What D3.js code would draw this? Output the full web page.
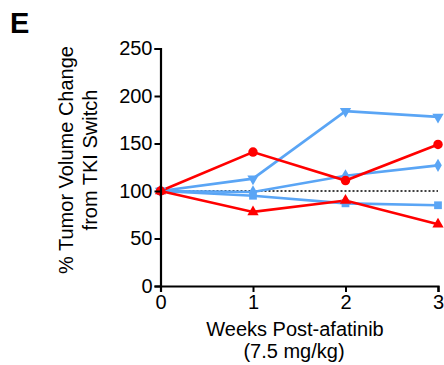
<!DOCTYPE html>
<html>
<head>
<meta charset="utf-8">
<script src="https://cdn.jsdelivr.net/npm/d3@7"></script>
<style>
  body { margin: 0; background: #fff; }
  svg { display: block; font-family: "Liberation Sans", Arial, sans-serif; }
</style>
</head>
<body>
<svg id="chart" width="444" height="365"></svg>
<script>
  var weeks = [0, 1, 2, 3];
  var yTicks = [0, 50, 100, 150, 200, 250];

  // one row per tumor
  var blueDown = [100, 113, 184, 178];
  var redCircle = [100, 141, 111, 149];
  var blueDiamond = [100, 99, 116, 127];
  var blueSquare = [100, 95, 87, 85];
  var redUp = [100, 78, 90, 65];

  var red = "#ff0000";
  var blue = "#5aa5f5";

  var series = [
    { values: blueDown, color: blue, symbol: d3.symbolTriangle, rotate: 180, size: 55 },
    { values: blueDiamond, color: blue, symbol: d3.symbolDiamond, rotate: 0, size: 50 },
    { values: blueSquare, color: blue, symbol: d3.symbolSquare, rotate: 0, size: 60 },
    { values: redUp, color: red, symbol: d3.symbolTriangle, rotate: 0, size: 55 },
    { values: redCircle, color: red, symbol: d3.symbolCircle, rotate: 0, size: 70 }
  ];

  var svg = d3.select("#chart");
  var x = d3.scaleLinear().domain([0, 3]).range([160.5, 438]);
  var y = d3.scaleLinear().domain([0, 250]).range([286, 48.5]);

  // reference line at 100%
  svg.append("line")
    .attr("x1", x(0)).attr("x2", x(3))
    .attr("y1", y(100)).attr("y2", y(100))
    .attr("stroke", "#000").attr("stroke-width", 1.6)
    .attr("stroke-dasharray", "2,2");

  var line = d3.line()
    .x(function (d, i) { return x(weeks[i]); })
    .y(function (d) { return y(d); });

  series.forEach(function (s) {
    svg.append("path")
      .attr("d", line(s.values))
      .attr("fill", "none")
      .attr("stroke", s.color)
      .attr("stroke-width", 2.6);
  });

  series.forEach(function (s) {
    svg.selectAll(null)
      .data(s.values)
      .join("path")
      .attr("d", d3.symbol().type(s.symbol).size(s.size))
      .attr("fill", s.color)
      .attr("transform", function (d, i) {
        return "translate(" + x(weeks[i]) + "," + y(d) + ") rotate(" + s.rotate + ")";
      });
  });

  var yAxis = svg.append("g")
    .attr("transform", "translate(" + x(0) + ",0)")
    .call(d3.axisLeft(y).tickValues(yTicks).tickSize(6).tickPadding(2).tickFormat(d3.format("d")));

  var xAxis = svg.append("g")
    .attr("transform", "translate(0," + y(0) + ")")
    .call(d3.axisBottom(x).tickValues(weeks).tickSize(6).tickPadding(3).tickFormat(d3.format("d")));

  [yAxis, xAxis].forEach(function (a) {
    a.select(".domain").attr("stroke", "#000").attr("stroke-width", 2.2);
    a.selectAll(".tick line").attr("stroke", "#000").attr("stroke-width", 2);
    a.selectAll("text").attr("font-size", 20).attr("fill", "#000")
      .attr("font-family", "'Liberation Sans', Arial, sans-serif");
  });

  svg.append("text")
    .attr("x", 10).attr("y", 33)
    .attr("font-size", 29).attr("font-weight", "bold")
    .text("E");

  var yTitle = svg.append("text")
    .attr("transform", "translate(73,160) rotate(-90)")
    .attr("text-anchor", "middle")
    .attr("font-size", 20);
  yTitle.append("tspan").attr("x", 0).attr("dy", 0).text("% Tumor Volume Change");
  yTitle.append("tspan").attr("x", 0).attr("dy", 24).text("from TKI Switch");

  svg.append("text")
    .attr("x", 295).attr("y", 336)
    .attr("text-anchor", "middle").attr("font-size", 20)
    .text("Weeks Post-afatinib");
  svg.append("text")
    .attr("x", 294).attr("y", 358)
    .attr("text-anchor", "middle").attr("font-size", 20)
    .text("(7.5 mg/kg)");
</script>
</body>
</html>
